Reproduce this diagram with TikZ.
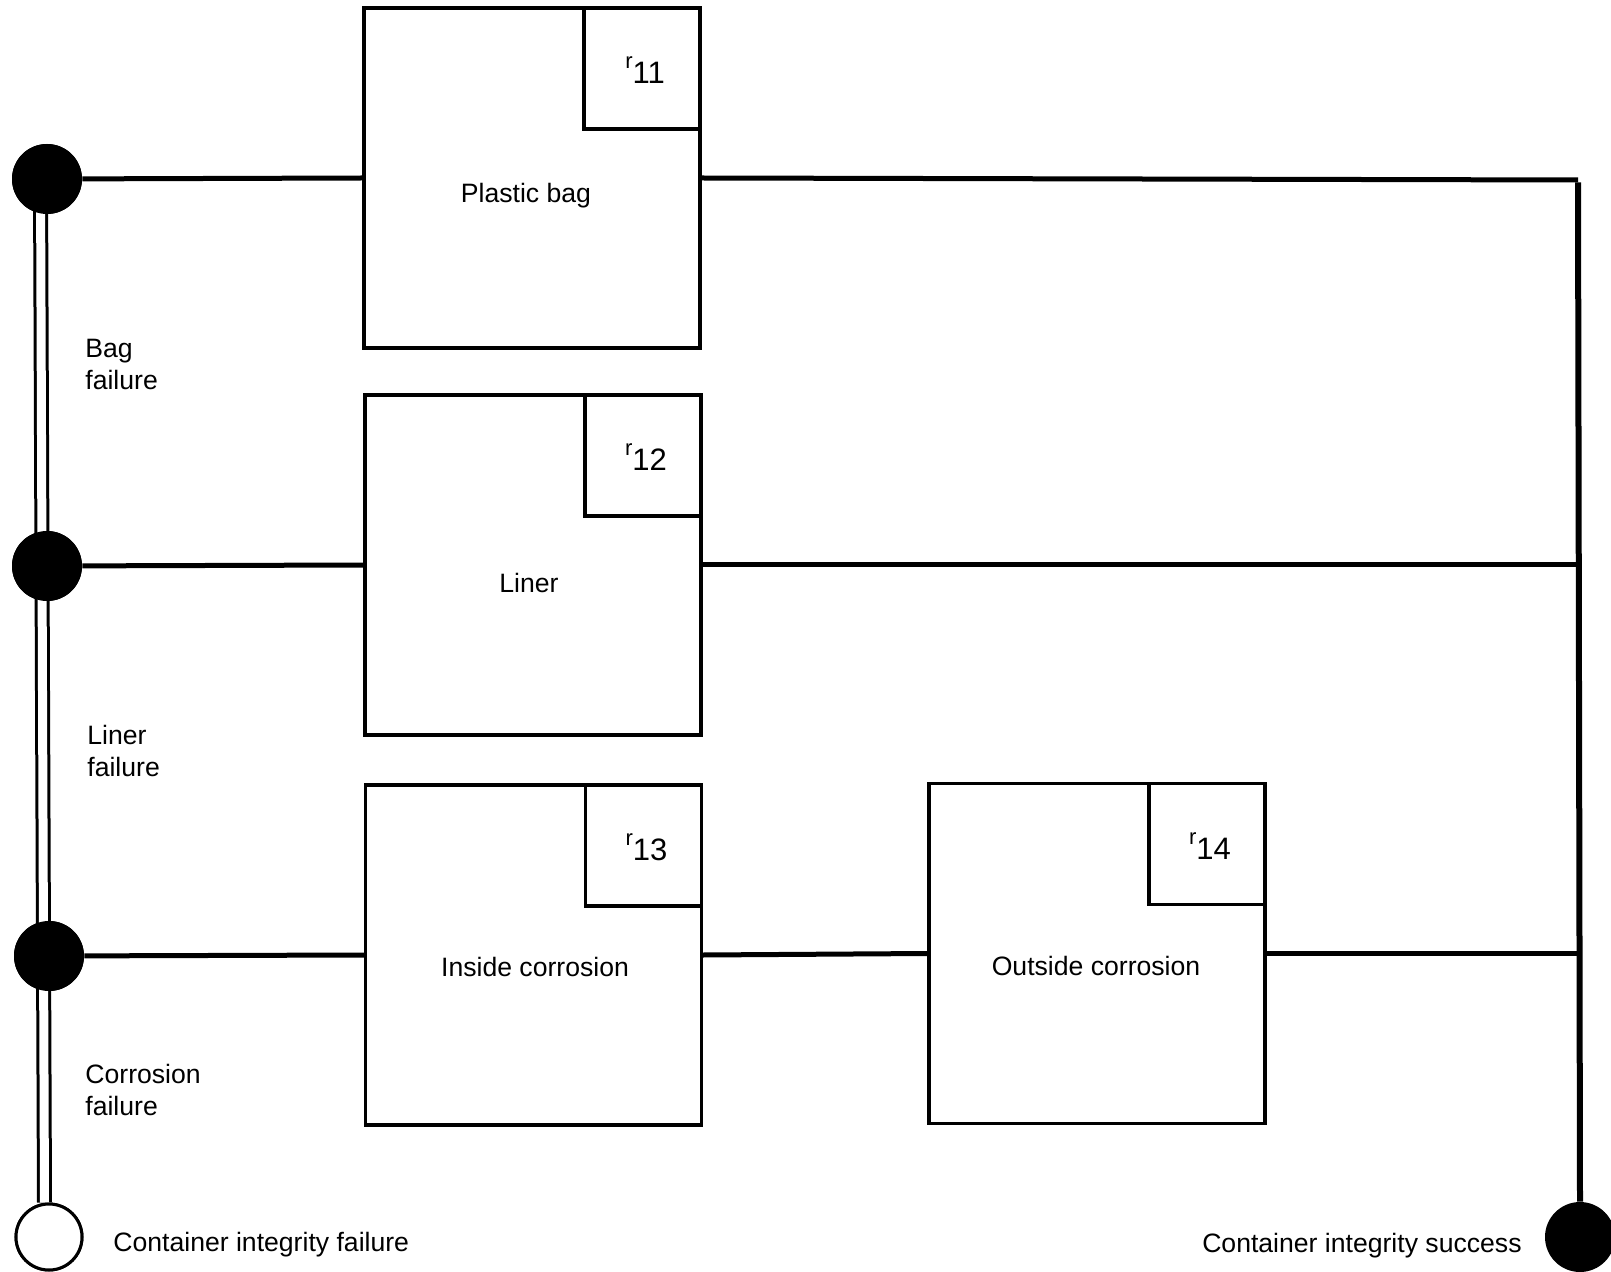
\documentclass[tikz,border=0pt]{standalone}
\usepackage{fontspec}
\setmainfont{Liberation Sans}
\begin{document}
\begin{tikzpicture}[x=0.5pt,y=-0.5pt,
  conn/.style={line width=2.5pt},
  rail/.style={line width=3pt},
  dbl/.style={double, line width=1.5pt, double distance=4.5pt},
  bigbox/.style={draw, line width=1.6pt, minimum width=168pt, minimum height=170pt, inner sep=0pt},
  rbox/.style={draw, line width=1.6pt, minimum width=58pt, minimum height=60.5pt, inner sep=0pt, anchor=north east},
  dot/.style={circle, fill=black, minimum size=35pt, inner sep=0pt},
  term/.style={circle, draw, line width=1.5pt, fill=white, minimum size=33pt, inner sep=0pt},
  lbl/.style={font=\fontsize{13.3}{16}\selectfont, inner sep=0pt},
  rlab/.style={font=\fontsize{15.5}{18}\selectfont, inner sep=0pt},
]
\useasboundingbox[fill=white] (0,0) rectangle (1611,1272);

% boxes
\node[bigbox] (b1) at (532,178) {};
\node[bigbox] (b2) at (533,565) {};
\node[bigbox] (b3) at (533.5,955) {};
\node[bigbox] (b4) at (1097,953.5) {};
\node[rbox] (r1) at (b1.north east) {};
\node[rbox] (r2) at (b2.north east) {};
\node[rbox] (r3) at (b3.north east) {};
\node[rbox] (r4) at (b4.north east) {};
\foreach \i/\n in {1/11,2/12,3/13,4/14}{
  \node[rlab] (rl\i) at ([xshift=1.5pt,yshift=-1pt]r\i.center) {{\fontsize{11}{12}\selectfont\raisebox{7.5pt}{r}}\n};
}
\node[lbl] (t1) at (526,196) {Plastic bag};
\node[lbl] (t2) at (529,583) {Liner};
\node[lbl] (t3) at (535,967) {Inside corrosion};
\node[lbl] (t4) at (1096,966) {Outside corrosion};

% circles
\node[dot] (c1) at (47,179) {};
\node[dot] (c2) at (47,566) {};
\node[dot] (c3) at (49,956) {};
\node[term] (cf) at (49,1237) {};
\node[dot] (cs) at (1580,1237) {};
\coordinate (tr) at (1578,180);

% double rail on the left
\draw[dbl] ([xshift=-3.25pt]c1.center) -- ([xshift=-2.25pt]cf.north);
\node[dot] at (c1) {};
\node[dot] at (c2) {};
\node[dot] at (c3) {};
\node[term] at (cf) {};

% connectors
\draw[conn] (c1) -- (b1.west);
\draw[conn] (c2) -- (b2.west);
\draw[conn] (c3) -- (b3.west);
\draw[conn] (b3.east) -- (b4.west);
\draw[conn] (b1.east) -- (tr);
\draw[rail] ([yshift=-1.25pt]tr) -- (cs.north);
\draw[conn] (b2.east) -- (b2.east -| tr);
\draw[conn] (b4.east) -- (b4.east -| tr);

% labels
\node[lbl, anchor=west, align=left] (l1) at (85,364) {Bag\\failure};
\node[lbl, anchor=west, align=left] (l2) at (87,751) {Liner\\failure};
\node[lbl, anchor=west, align=left] (l3) at (85,1090) {Corrosion\\failure};
\node[lbl, anchor=west] (lf) at (113,1245) {Container integrity failure};
\node[lbl, anchor=east] (ls) at (1522,1246) {Container integrity success};
\end{tikzpicture}
\end{document}
